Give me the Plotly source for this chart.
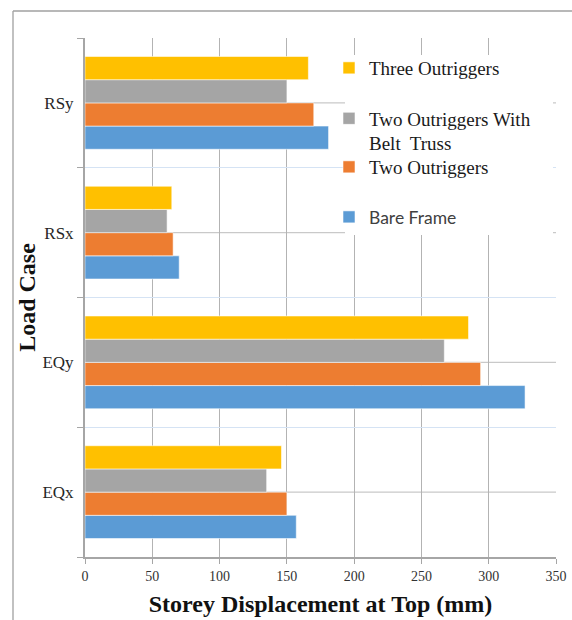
import plotly.graph_objects as go

# Load cases (bottom to top on the category axis)
load_cases = ["EQx", "EQy", "RSx", "RSy"]

# Storey displacement at top (mm) for each structural system
bare_frame = [157, 327, 70, 181]
two_outriggers = [150, 294, 65.5, 170]
two_outriggers_belt = [135, 267, 61, 150]
three_outriggers = [146, 285, 64.5, 166]

series_names = ["Bare Frame", "Two Outriggers",
                "Two Outriggers With<br>Belt\u00a0 Truss", "Three Outriggers"]
series_values = [bare_frame, two_outriggers, two_outriggers_belt, three_outriggers]
series_colors = ["#5B9BD5", "#ED7D31", "#A5A5A5", "#FFC000"]
series_legends = ["legend4", "legend3", "legend2", "legend"]

x_ticks = [0, 50, 100, 150, 200, 250, 300, 350]

# plot-area geometry in pixels (used to place frame / legend items)
W, H = 572, 620
L, R, T, B = 85, 16, 38, 63
PW, PH = W - L - R, H - T - B


def px_x(p):
    return (p - L) / PW


def px_y(p):
    return (H - B - p) / PH


SERIF = "Liberation Serif"

fig = go.Figure()
for name, vals, col, lg in zip(series_names, series_values, series_colors, series_legends):
    fig.add_trace(go.Bar(
        y=load_cases, x=vals, name=name, orientation="h",
        marker=dict(color=col, line=dict(color="rgba(255,255,255,0.55)", width=1)),
        legend=lg, showlegend=True,
    ))

# gray centre lines through each load-case band
shapes = []
for cat in load_cases:
    shapes.append(dict(type="line", xref="paper", yref="y", x0=0, x1=1, y0=cat, y1=cat,
                       line=dict(color="#c9c9c9", width=1.3), layer="below"))

# white panel behind the legend entries
shapes.append(dict(type="rect", xref="paper", yref="paper",
                   x0=px_x(345), x1=px_x(553), y0=px_y(235), y1=px_y(55),
                   fillcolor="white", line=dict(width=0), layer="above"))

# outer frame (left and top edges)
shapes.append(dict(type="line", xref="paper", yref="paper",
                   x0=px_x(13), x1=px_x(13), y0=px_y(11), y1=px_y(640),
                   line=dict(color="#a0a0a0", width=1.3)))
shapes.append(dict(type="line", xref="paper", yref="paper",
                   x0=px_x(13), x1=px_x(600), y0=px_y(11), y1=px_y(11),
                   line=dict(color="#a0a0a0", width=1.3)))

legend_font = dict(family=SERIF, size=19, color="#1a1a1a")
legend_common = dict(xanchor="left", yanchor="middle", bgcolor="rgba(0,0,0,0)",
                     borderwidth=0, itemclick=False, font=legend_font)
legend_x = px_x(329)

fig.update_layout(
    width=W, height=H,
    margin=dict(l=L, r=R, t=T, b=B, autoexpand=False),
    paper_bgcolor="white", plot_bgcolor="white",
    barmode="group", bargap=0.285, bargroupgap=0,
    showlegend=True,
    shapes=shapes,
    legend=dict(x=legend_x, y=px_y(68), **legend_common),
    legend2=dict(x=legend_x, y=px_y(131), valign="top", **legend_common),
    legend3=dict(x=legend_x, y=px_y(167), **legend_common),
    legend4=dict(x=legend_x, y=px_y(217),
                 **{**legend_common, "font": dict(family="Lato", size=17.5, color="#404040")}),
    xaxis=dict(
        range=[0, 350], tickvals=x_ticks, ticktext=[str(v) for v in x_ticks],
        showgrid=True, gridcolor="#b3b3b3", gridwidth=1.3,
        zeroline=False, showline=True, linecolor="#a6a6a6", linewidth=2,
        ticks="outside", ticklen=5, tickcolor="#a6a6a6", tickwidth=1.3,
        tickfont=dict(family=SERIF, size=14, color="#333333"),
        automargin=False,
        title=dict(text="Storey Displacement at Top (mm)", standoff=12,
                   font=dict(family=SERIF, size=24, color="#111111", weight="bold")),
        fixedrange=True,
    ),
    yaxis=dict(
        type="category", categoryorder="array", categoryarray=load_cases,
        tickson="boundaries", showgrid=True, gridcolor="#d5e3f4", gridwidth=1.3,
        showline=True, linecolor="#a6a6a6", linewidth=2,
        ticks="outside", ticklen=6, tickcolor="#a6a6a6", tickwidth=1.3,
        ticklabelstandoff=6,
        tickfont=dict(family=SERIF, size=17, color="#262626"),
        automargin=False,
        title=dict(text="Load Case", standoff=0,
                   font=dict(family=SERIF, size=24, color="#111111", weight="bold")),
        fixedrange=True,
    ),
)

fig.write_html("out.html")
